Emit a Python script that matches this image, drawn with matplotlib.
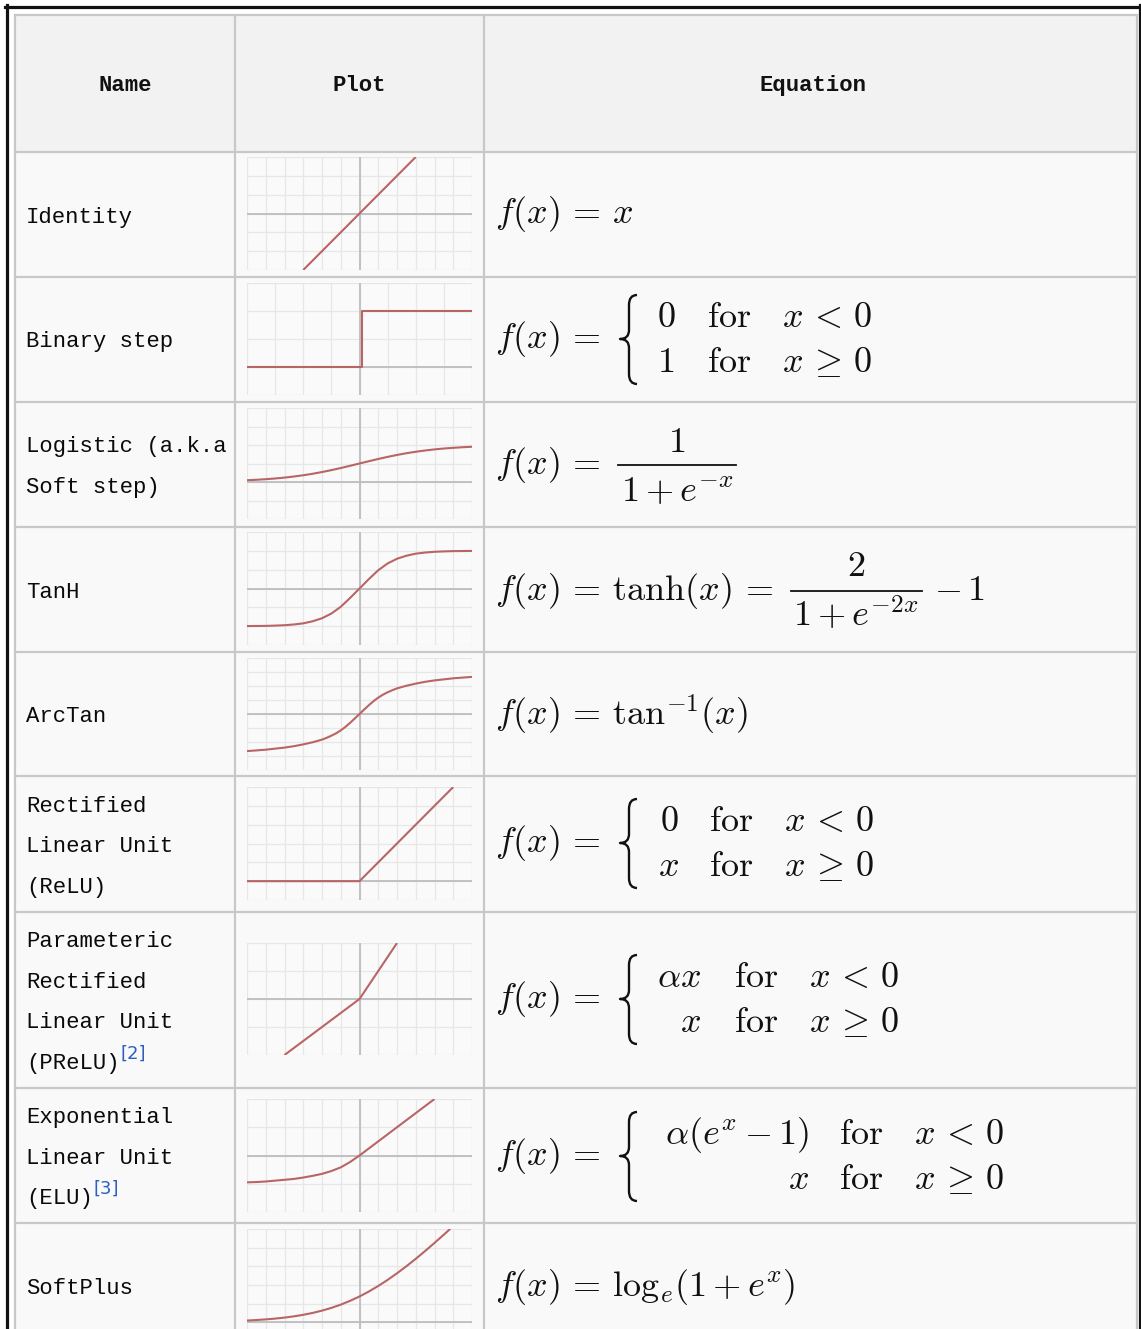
import matplotlib
matplotlib.use('Agg')
import matplotlib.pyplot as plt
from matplotlib.patches import Rectangle, PathPatch
from matplotlib.path import Path
from matplotlib.lines import Line2D

W, H = 1141, 1329
plt.rcParams['mathtext.fontset'] = 'cm'

# ---------------- data ----------------
headers = ['Name', 'Plot', 'Equation']
name_lines = [
    ['Identity'],
    ['Binary step'],
    ['Logistic (a.k.a', 'Soft step)'],
    ['TanH'],
    ['ArcTan'],
    ['Rectified', 'Linear Unit', '(ReLU)'],
    ['Parameteric', 'Rectified', 'Linear Unit', '(PReLU)'],
    ['Exponential', 'Linear Unit', '(ELU)'],
    ['SoftPlus'],
]
name_refs = ['', '', '', '', '', '', '[2]', '[3]', '']

# sample x positions (in grid squares)
curve_x = [-6.0, -5.5, -5.0, -4.5, -4.0, -3.5, -3.0, -2.5, -2.0, -1.5, -1.0, -0.5,
           0.0, 0.5, 1.0, 1.5, 2.0, 2.5, 3.0, 3.5, 4.0, 4.5, 5.0, 5.5, 6.0]

identity_x = [-3, 3]
identity_y = [-3, 3]

step_x = [-4, 0.08, 0.08, 4]
step_y = [0, 0, 2, 2]

logistic_y = [0.095, 0.12, 0.152, 0.19, 0.238, 0.296, 0.365, 0.445, 0.538, 0.642, 0.755, 0.876,
              1.0, 1.124, 1.245, 1.358, 1.462, 1.555, 1.635, 1.704, 1.762, 1.81, 1.848, 1.88, 1.905]

tanh_y = [-1.995, -1.99, -1.985, -1.97, -1.95, -1.91, -1.85, -1.74, -1.58, -1.33, -0.97, -0.5,
          0.0, 0.5, 0.97, 1.33, 1.58, 1.74, 1.85, 1.91, 1.95, 1.97, 1.985, 1.99, 1.995]

arctan_x = [-6.0, -5.0, -4.0, -3.5, -3.0, -2.5, -2.0, -1.75, -1.5, -1.25, -1.0, -0.75, -0.5, -0.25,
            0.0, 0.25, 0.5, 0.75, 1.0, 1.25, 1.5, 1.75, 2.0, 2.5, 3.0, 3.5, 4.0, 5.0, 6.0]
arctan_y = [-2.65, -2.55, -2.4, -2.3, -2.17, -2.02, -1.83, -1.7, -1.55, -1.38, -1.17, -0.92, -0.63, -0.32,
            0.0, 0.32, 0.63, 0.92, 1.17, 1.38, 1.55, 1.7, 1.83, 2.02, 2.17, 2.3, 2.4, 2.55, 2.65]

relu_x = [-6, 0, 5]
relu_y = [0, 0, 5]

prelu_x = [-4, 0, 2]
prelu_y = [-2, 0, 2]

elu_x = [-6.0, -5.5, -5.0, -4.5, -4.0, -3.5, -3.0, -2.5, -2.0, -1.5, -1.0, -0.5, 0.0, 4.0]
elu_y = [-0.95, -0.94, -0.92, -0.89, -0.86, -0.83, -0.78, -0.72, -0.65, -0.55, -0.42, -0.23, 0.0, 2.0]

softplus_x = [-6.0, -5.5, -5.0, -4.5, -4.0, -3.5, -3.0, -2.5, -2.0, -1.5, -1.0, -0.5,
              0.0, 0.5, 1.0, 1.5, 2.0, 2.5, 3.0, 3.5, 4.0, 4.5, 4.84]
softplus_y = [0.097, 0.124, 0.158, 0.2, 0.254, 0.32, 0.403, 0.504, 0.627, 0.774, 0.948, 1.152,
              1.386, 1.652, 1.948, 2.274, 2.627, 3.004, 3.403, 3.82, 4.254, 4.70, 5.01]

# ---------------- layout ----------------
fig = plt.figure(figsize=(W / 100, H / 100), dpi=100)
fig.patch.set_facecolor('white')

def fx(x):
    return x / W

def fy(y):
    return 1 - y / H

TL, TR = 15, 1137
COLS = [15, 235, 484, 1137]
ROWS = [15, 152, 277, 402, 527, 652, 776, 912, 1088, 1223, 1349]

# backgrounds (behind the plot axes)
fig.patches.append(Rectangle((fx(TL), fy(ROWS[1])), fx(TR - TL), (ROWS[1] - ROWS[0]) / H,
                             transform=fig.transFigure, facecolor='#f2f2f2', edgecolor='none', zorder=-2))
fig.patches.append(Rectangle((fx(TL), fy(H + 10)), fx(TR - TL), (H + 10 - ROWS[1]) / H,
                             transform=fig.transFigure, facecolor='#f9f9f9', edgecolor='none', zorder=-2))

grid_col = '#c8c8c8'
for yv in ROWS[:-1]:
    fig.lines.append(Line2D([fx(TL), fx(TR)], [fy(yv), fy(yv)], transform=fig.transFigure,
                            color=grid_col, lw=1.6, zorder=1))
for xv in COLS:
    fig.lines.append(Line2D([fx(xv), fx(xv)], [fy(ROWS[0]), fy(H + 10)], transform=fig.transFigure,
                            color=grid_col, lw=1.6, zorder=1))

# outer black frame
for (xa, ya, xb, yb) in [(5, 6.5, 1141, 6.5), (6.5, 5, 6.5, H + 5), (1139.5, 5, 1139.5, H + 5)]:
    fig.lines.append(Line2D([fx(xa), fx(xb)], [fy(ya), fy(yb)], transform=fig.transFigure,
                            color='#111111', lw=2.3, zorder=3))

# headers
name_font = ['Liberation Mono', 'DejaVu Sans Mono']
hx = [125, 359, 813]
for t, xv in zip(headers, hx):
    fig.text(fx(xv), fy(91), t, ha='center', va='baseline', fontsize=16,
             fontweight='bold', family=name_font, color='#111111')

# names
for i, lines in enumerate(name_lines):
    yc = (ROWS[i + 1] + ROWS[i + 2]) / 2
    n = len(lines)
    for j, ln in enumerate(lines):
        yl = yc + (j - (n - 1) / 2) * 40.5
        fig.text(fx(26), fy(yl + 8), ln, ha='left', va='baseline', fontsize=16,
                 family=name_font, color='#0a0a0a')
        if j == n - 1 and name_refs[i]:
            fig.text(fx(26 + 13.3 * len(ln) + 1), fy(yl - 2), name_refs[i], ha='left',
                     va='baseline', fontsize=13, family='DejaVu Sans', color='#2e5fbf')

# plots
PX0, PX1 = 247, 472
def make_plot(ytop, ybot, xlim, ylim, xs, ys):
    ax = fig.add_axes([fx(PX0), fy(ybot), (PX1 - PX0) / W, (ybot - ytop) / H])
    ax.set_xlim(xlim)
    ax.set_ylim(ylim)
    ax.set_xticks(range(xlim[0], xlim[1] + 1))
    ax.set_yticks(range(ylim[0], ylim[1] + 1))
    ax.set_facecolor('#fafafa')
    ax.grid(True, color='#e7e7e7', lw=0.9)
    ax.axhline(0, color='#bdbdbd', lw=1.3, zorder=2)
    ax.axvline(0, color='#bdbdbd', lw=1.3, zorder=2)
    ax.plot(xs, ys, color='#b96565', lw=1.5, zorder=3, solid_capstyle='butt')
    ax.tick_params(length=0, labelbottom=False, labelleft=False)
    for sp in ax.spines.values():
        sp.set_visible(False)
    return ax

make_plot(157, 270, (-6, 6), (-3, 3), identity_x, identity_y)
make_plot(283, 395, (-4, 4), (-1, 3), step_x, step_y)
make_plot(408, 519, (-6, 6), (-2, 4), curve_x, logistic_y)
make_plot(532, 645, (-6, 6), (-3, 3), curve_x, tanh_y)
make_plot(658, 770, (-6, 6), (-4, 4), arctan_x, arctan_y)
make_plot(787, 900, (-6, 6), (-1, 5), relu_x, relu_y)
make_plot(943, 1055, (-6, 6), (-2, 2), prelu_x, prelu_y)
make_plot(1099, 1212, (-6, 6), (-2, 2), elu_x, elu_y)
make_plot(1229, 1341, (-6, 6), (-1, 5), softplus_x, softplus_y)

# equations
FS = 26
EQC = '#111111'
EX = 495

def eq(x, y, s, ha='left'):
    fig.text(fx(x), fy(y), s, ha=ha, va='baseline', fontsize=FS, color=EQC)

def hbar(x0, x1, y):
    fig.lines.append(Line2D([fx(x0), fx(x1)], [fy(y), fy(y)], transform=fig.transFigure,
                            color=EQC, lw=1.3, zorder=4))

def brace(c):
    xr, xm, xt = 637, 629, 620
    yt, yb = c - 44, c + 45
    verts = [(xr, yt), (xm, yt), (xm, yt + 10),
             (xm, c - 9),
             (xm, c), (xt, c),
             (xm, c), (xm, c + 9),
             (xm, yb - 10),
             (xm, yb), (xr, yb)]
    codes = [Path.MOVETO, Path.CURVE3, Path.CURVE3,
             Path.LINETO,
             Path.CURVE3, Path.CURVE3,
             Path.CURVE3, Path.CURVE3,
             Path.LINETO,
             Path.CURVE3, Path.CURVE3]
    verts = [(fx(a), fy(b)) for a, b in verts]
    fig.patches.append(PathPatch(Path(verts, codes), transform=fig.transFigure,
                                 facecolor='none', edgecolor=EQC, lw=1.7, zorder=4,
                                 capstyle='butt', joinstyle='round'))

def cases(c, col1, col1_x, col1_ha, for_x, cond_x):
    eq(EX, c + 9, r'$f(x)\,=$')
    brace(c)
    conds = [r'$x\,<\,0$', r'$x\,\geq\,0$']
    for k, yb in enumerate([c - 12, c + 33]):
        eq(col1_x, yb, col1[k], ha=col1_ha)
        eq(for_x, yb, r'$\mathrm{for}$')
        eq(cond_x, yb, conds[k])

eq(EX, 223, r'$f(x)\,=\,x$')
cases(339, [r'$0$', r'$1$'], 666, 'center', 707, 782)

# logistic: f(x) = 1 / (1 + e^-x)
eq(EX, 474, r'$f(x)\,=$')
hbar(618, 736, 465)
eq(677, 452, r'$1$', ha='center')
eq(677, 502, r'$1 + e^{-x}$', ha='center')

# tanh
eq(EX, 600, r'$f(x)\,=\,\mathrm{tanh}(x)\,=$')
hbar(791, 922, 591)
eq(856, 576, r'$2$', ha='center')
eq(856, 627, r'$1 + e^{-2x}$', ha='center')
eq(934, 600, r'$-\,1$')

eq(EX, 726, r'$f(x)\,=\,\mathrm{tan}^{-1}(x)$')
cases(843, [r'$0$', r'$x$'], 669, 'center', 709, 784)
cases(999, [r'$\alpha x$', r'$x$'], 701, 'right', 734, 809)
cases(1156, [r'$\alpha(e^x - 1)$', r'$x$'], 809, 'right', 839, 914)
eq(EX, 1296, r'$f(x)\,=\,\mathrm{log}_e(1 + e^x)$')

fig.savefig('out.png', dpi=100, facecolor='white')
